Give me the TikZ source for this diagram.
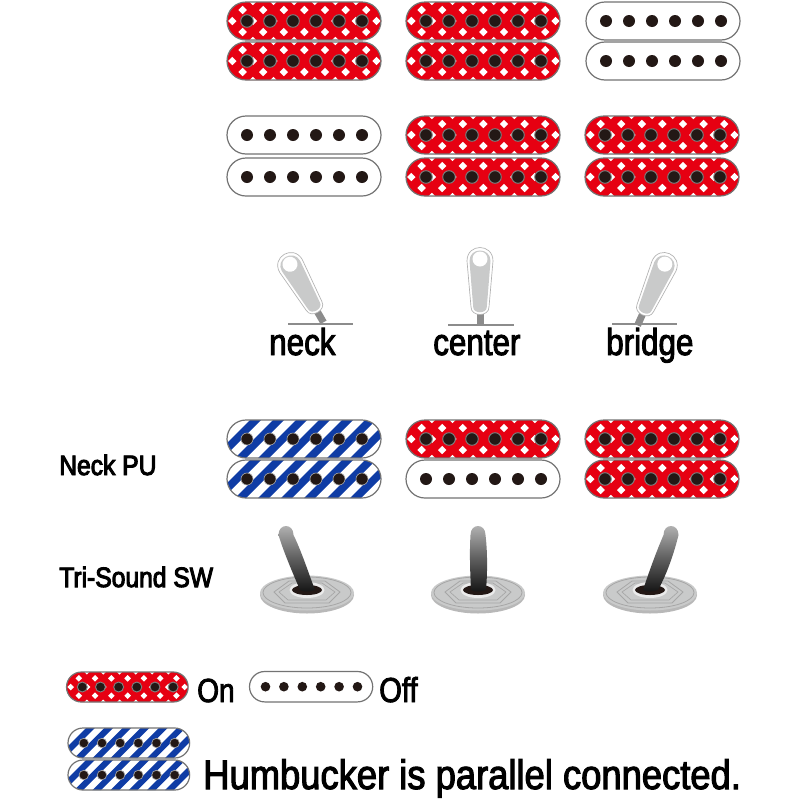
\documentclass[tikz,border=0pt]{standalone}
\usepackage{fontspec}
\setmainfont[FakeStretch=0.84,FakeBold=2.5]{Liberation Sans}
\newfontfamily\midfont[FakeStretch=0.88,FakeBold=3.5]{Liberation Sans}
\newfontfamily\humfont[FakeStretch=0.88,FakeBold=2.5]{Liberation Sans}
\definecolor{pkred}{HTML}{E60012}
\definecolor{pkblue}{HTML}{0F3CA5}
\definecolor{pole}{HTML}{231815}
\definecolor{washer}{HTML}{C9CACA}
\definecolor{lever}{HTML}{C9CACA}
\tikzset{
  txt/.style={anchor=base west,inner sep=0pt,text=black},
  big/.style={txt,font=\fontsize{28}{30}\selectfont},
  mid/.style={txt,font=\midfont\fontsize{21}{24}\selectfont},
  baseline rule/.style={draw=black!45,line width=0.9pt},
}
\newcommand\patR{%
  \fill[pkred] (-1,-1) rectangle (155,39);
  \foreach \yy/\xo in {-1/5.3,8/15.6,19/5.3,30/15.6,39/5.3}{
    \foreach \k in {0,...,7}{
      \pgfmathsetmacro\xx{\xo+20.6*\k}
      \fill[white] (\xx-4.2,\yy) -- (\xx,\yy-4.2) -- (\xx+4.2,\yy) -- (\xx,\yy+4.2) -- cycle;
    }}
  \foreach \k in {0,...,5}{\fill[pole,draw=black!50,line width=0.7pt] (20+23*\k,19) circle[radius=6.3];}
}
\newcommand\patW{%
  \fill[white] (-1,-1) rectangle (155,39);
  \foreach \k in {0,...,5}{\fill[pole] (20+23*\k,19) circle[radius=6];}
}
\newcommand\patB{%
  \fill[white] (-1,-1) rectangle (155,39);
  \foreach \k in {-3,...,7}{
    \fill[pkblue] (6+23*\k,40) -- (17+23*\k,40) -- (57+23*\k,0) -- (46+23*\k,0) -- cycle;
  }
  \foreach \k in {0,...,5}{\fill[pole,draw=black!35,line width=0.5pt] (20+23*\k,19) circle[radius=6];}
}
% pickup: x, y, scale, type (R, W, B)
\newcommand\pk[4]{%
  \begin{scope}[shift={(#1,#2)}]
    \pgfmathsetmacro\rr{19*#3*0.75}
    \begin{scope}
      \clip[rounded corners=\rr pt] (0,0) rectangle (154*#3,38*#3);
      \begin{scope}[scale=#3]\csname pat#4\endcsname\end{scope}
    \end{scope}
    \draw[draw=black!55,line width=0.9pt,rounded corners=\rr pt] (0,0) rectangle (154*#3,38*#3);
  \end{scope}}
\newcommand\flatlever[3]{%
  \begin{scope}[shift={(#1,#2)},rotate=#3]
    \fill[black!45] (-3.5,48) rectangle (3.5,65);
    \draw[draw=black!30,fill=white,line width=0.5pt] (-13,0) .. controls (-13,-18) and (13,-18) .. (13,0) -- (9,46) .. controls (9,56) and (-9,56) .. (-9,46) -- cycle;
    \fill[lever] (-10.5,0) .. controls (-10.5,-14) and (10.5,-14) .. (10.5,0) -- (6.8,46) .. controls (6.8,53) and (-6.8,53) .. (-6.8,46) -- cycle;
    \fill[white] (0,-2) circle[radius=7.5];
  \end{scope}}
% toggle: washer centre x, y, top offset
\newcommand\toggle[3]{%
  \begin{scope}[shift={(#1,#2)}]
    \fill[black!28] (0,2) ellipse[x radius=47,y radius=18.5];
    \fill[washer] (0,0) ellipse[x radius=47,y radius=17.5];
    \draw[black!35,line width=0.6pt] (0,-0.5) ellipse[x radius=44,y radius=15.5];
    \draw[black!35,line width=0.6pt,fill=washer] (-33,-1) -- (-18,-12) -- (18,-12) -- (33,-1) -- (22,10) -- (-22,10) -- cycle;
    \draw[black!35,line width=0.5pt] (-28,-1) -- (-15,-10) -- (15,-10) -- (28,-1) -- (19,7) -- (-19,7) -- cycle;
    \fill[black!8] (0,-3) ellipse[x radius=17.5,y radius=8];
    \fill[pole] (0,-3) ellipse[x radius=15,y radius=5];
    \shade[top color=black!28,bottom color=black!92,middle color=black!62]
      (#3-7.5,-58) .. controls (#3-7.5,-70) and (#3+7.5,-70) .. (#3+7.5,-58)
      .. controls (#3*0.72+9.5,-42) and (#3*0.38+9.5,-20) .. (8,-3)
      .. controls (3,-1) and (-4,-1) .. (-7,-3)
      .. controls (#3*0.38-8,-24) and (#3*0.72-8.5,-42) .. (#3-7.5,-58) -- cycle;
  \end{scope}}
\begin{document}
\begin{tikzpicture}[x=0.75pt,y=-0.75pt]
\useasboundingbox (0,0) rectangle (800,800);
\fill[white] (0,0) rectangle (800,800);
% top rows
\pk{227}{2}{1}{R}\pk{227}{42}{1}{R}
\pk{406}{2}{1}{R}\pk{406}{42}{1}{R}
\pk{586}{2}{1}{W}\pk{586}{42}{1}{W}
\pk{227}{116}{1}{W}\pk{227}{158}{1}{W}
\pk{406}{116}{1}{R}\pk{406}{158}{1}{R}
\pk{585}{116}{1}{R}\pk{585}{158}{1}{R}
% flat levers
\draw[baseline rule] (288,324) -- (353,324);
\draw[baseline rule] (448,325) -- (514,325);
\draw[baseline rule] (612,324) -- (677,324);
\flatlever{291}{266}{30}
\flatlever{480}{261}{0}
\flatlever{664}{266}{-24}
\node[big] (neck) at (269,355) {neck};
\node[big] (center) at (433,355) {center};
\node[big] (bridge) at (606,355) {bridge};
% third row
\pk{227}{420}{1}{B}\pk{227}{460}{1}{B}
\pk{406}{420}{1}{R}\pk{406}{460}{1}{W}
\pk{585}{420}{1}{R}\pk{585}{460}{1}{R}
\node[mid] (neckpu) at (59,475) {Neck PU};
\node[mid] (tri) at (59,587) {Tri-Sound SW};
\toggle{307}{593}{-21}
\toggle{478}{593}{0}
\toggle{650}{593}{21}
% legend
\pk{66.5}{672}{0.79}{R}
\pk{249.5}{671.5}{0.8}{W}
\node[big,font=\fontsize{25}{28}\selectfont] (on) at (197,702) {On};
\node[big,font=\fontsize{26}{28}\selectfont] (off) at (379,702) {Off};
\pk{68}{728}{0.79}{B}\pk{68}{760}{0.79}{B}
\node[txt,font=\humfont\fontsize{31}{34}\selectfont] (hum) at (203,789) {Humbucker is parallel connected.};
\end{tikzpicture}
\end{document}
